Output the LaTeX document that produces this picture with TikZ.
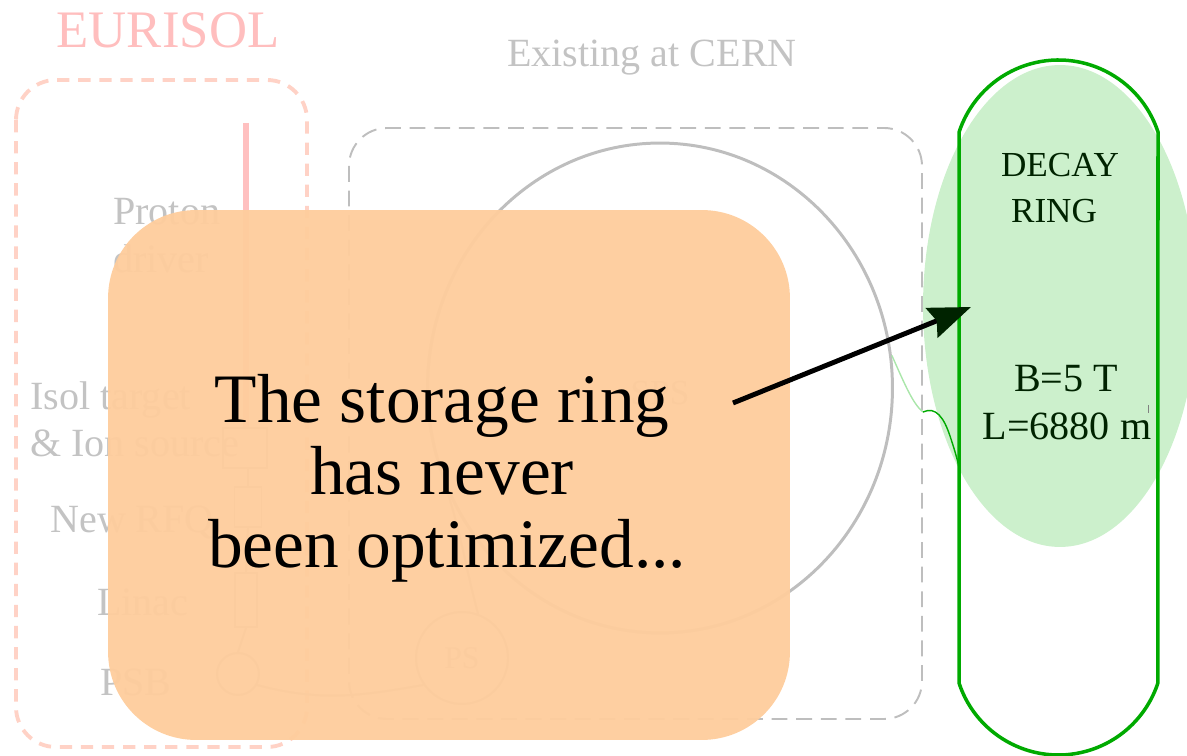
\documentclass[tikz,border=0pt]{standalone}
\usepackage{fontspec}
\setmainfont{Liberation Serif}
\usetikzlibrary{arrows.meta,shapes.geometric}

\definecolor{labelgray}{RGB}{195,195,195}
\definecolor{linegray}{RGB}{190,190,190}
\definecolor{eurisolpink}{RGB}{255,190,190}
\definecolor{eurisoldash}{RGB}{255,210,198}
\definecolor{beampink}{RGB}{255,192,192}
\definecolor{notefill}{RGB}{254,205,157}
\definecolor{ringgreen}{RGB}{0,170,0}
\definecolor{ringfill}{RGB}{204,240,204}
\definecolor{paletrack}{RGB}{170,230,170}
\definecolor{ringtext}{RGB}{0,35,0}

\begin{document}
\begin{tikzpicture}[x=0.02cm,y=-0.02cm,
  graylabel/.style={text=labelgray,font=\fontsize{22.8}{27}\selectfont,inner sep=0pt,anchor=base west},
  element/.style={draw=linegray,line width=1.1pt,inner sep=0pt},
  beamline/.style={draw=linegray,line width=1.1pt},
  groupbox/.style={dashed,line width=1.1pt,rounded corners=0.76cm,dash pattern=on 9pt off 5pt},
  ringtextstyle/.style={text=ringtext,inner sep=0pt,anchor=base},
  msg/.style={text=black,font=\fontsize{39.5}{45}\selectfont,inner sep=0pt,anchor=base},
]
\useasboundingbox (0,0) rectangle (1187,756);

% ---------- EURISOL part ----------
\node[text=eurisolpink,font=\fontsize{30}{34}\selectfont,inner sep=0pt,anchor=base] (eurisol) at (168,48) {EURISOL};
\draw[draw=eurisoldash,line width=2.2pt,rounded corners=0.8cm,dash pattern=on 7pt off 5pt] (16,80) rectangle (307,747);

\node[graylabel] (proton1) at (113,225) {Proton};
\node[graylabel] (proton2) at (113,273) {driver};
\node[graylabel] (isol1) at (30,410) {Isol target};
\node[graylabel] (isol2) at (30,457) {\& Ion source};
\node[graylabel] (rfqlabel) at (50,533) {New RFQ};
\node[graylabel] (linaclabel) at (97,616) {Linac};
\node[graylabel] (psblabel) at (100,695) {PSB};

\node[element,rectangle,minimum width=0.88cm,minimum height=0.8cm] (isol) at (245,448) {};
\node[element,rectangle,minimum width=0.54cm,minimum height=0.8cm] (rfq) at (248,507) {};
\node[element,rectangle,minimum width=0.44cm,minimum height=1.08cm] (linac) at (246,600) {};
\node[element,circle,minimum size=0.84cm] (psb) at (238,674) {};

\coordinate (drivertop) at (246,123);
\draw[beampink,line width=3pt] (drivertop) -- (isol.north -| drivertop);
\draw[beamline] (isol.south -| rfq.north) -- (rfq.north);
\draw[beamline] (rfq.south) -- (linac.north);
\draw[beamline] (linac.south) -- (psb.north);

% ---------- Existing CERN machines ----------
\node[text=labelgray,font=\fontsize{22.8}{27}\selectfont,inner sep=0pt,anchor=base] (cern) at (652,67) {Existing at CERN};

% decay ring halo (under the CERN frame)
\fill[ringfill] (1060,306) ellipse [x radius=2.74cm, y radius=4.82cm];

\draw[draw=linegray,groupbox] (349,128) rectangle (922,719);

\node[draw=linegray,line width=1.7pt,ellipse,minimum width=9.3cm,minimum height=9.8cm,inner sep=0pt] (sps) at (660,388) {};
\node[text=labelgray,font=\fontsize{20}{24}\selectfont,inner sep=0pt,anchor=base] (spslabel) at (660,405) {SPS};
\node[element,circle,minimum size=1.84cm,text=labelgray,font=\fontsize{18}{22}\selectfont] (ps) at (462,658) {PS};

\draw[beamline] (psb.-30) to[out=-15,in=190] (ps.-145);
\draw[beamline] (ps.70) to[out=105,in=-72] (sps.205);

% ---------- Decay ring ----------
\draw[ringgreen,line width=2pt,line join=miter]
  (1158,132) arc[start angle=18.2,end angle=161.8,radius=2.094cm]
  -- (959,683) arc[start angle=198.2,end angle=341.8,radius=2.094cm] -- cycle;

\node[ringtextstyle,font=\fontsize{20}{24}\selectfont] (decay1) at (1060,177) {DECAY};
\node[ringtextstyle,font=\fontsize{20}{24}\selectfont] (decay2) at (1054,223) {RING};
\node[ringtextstyle,font=\fontsize{22.8}{27}\selectfont] (field) at (1066,392) {B=5 T};
\node[ringtextstyle,font=\fontsize{22.8}{27}\selectfont] (length) at (1067,440) {L=6880 m};
\draw[gray,line width=0.4pt] (1148,405) -- (1148,413);

% transfer line from the SPS into the decay ring
\coordinate (trackmid) at (923,412);
\coordinate (ringjoin) at (959,467);
\draw[paletrack,line width=0.8pt] (sps.8) .. controls (905,385) and (913,404) .. (trackmid);
\draw[ringgreen,line width=0.8pt] (trackmid) .. controls (936,406) and (944,418) .. (950,436) .. controls (954,448) and (957,458) .. (ringjoin);

% ---------- Note ----------
\node[fill=notefill,fill opacity=0.96,rounded corners=1.76cm,minimum width=13.64cm,minimum height=10.6cm,inner sep=0pt] (note) at (449,475) {};
\node[msg] (msg1) at (442,423) {The storage ring};
\node[msg] (msg2) at (442,495) {has never};
\node[msg] (msg3) at (447,568) {been optimized...};

\coordinate (arrowtail) at (733,403);
\coordinate (arrowtip) at (971,307);
\draw[line width=2.8pt,-{Stealth[length=24pt,width=18pt,inset=3pt,color=ringtext]}] (arrowtail) -- (arrowtip);
\end{tikzpicture}
\end{document}
